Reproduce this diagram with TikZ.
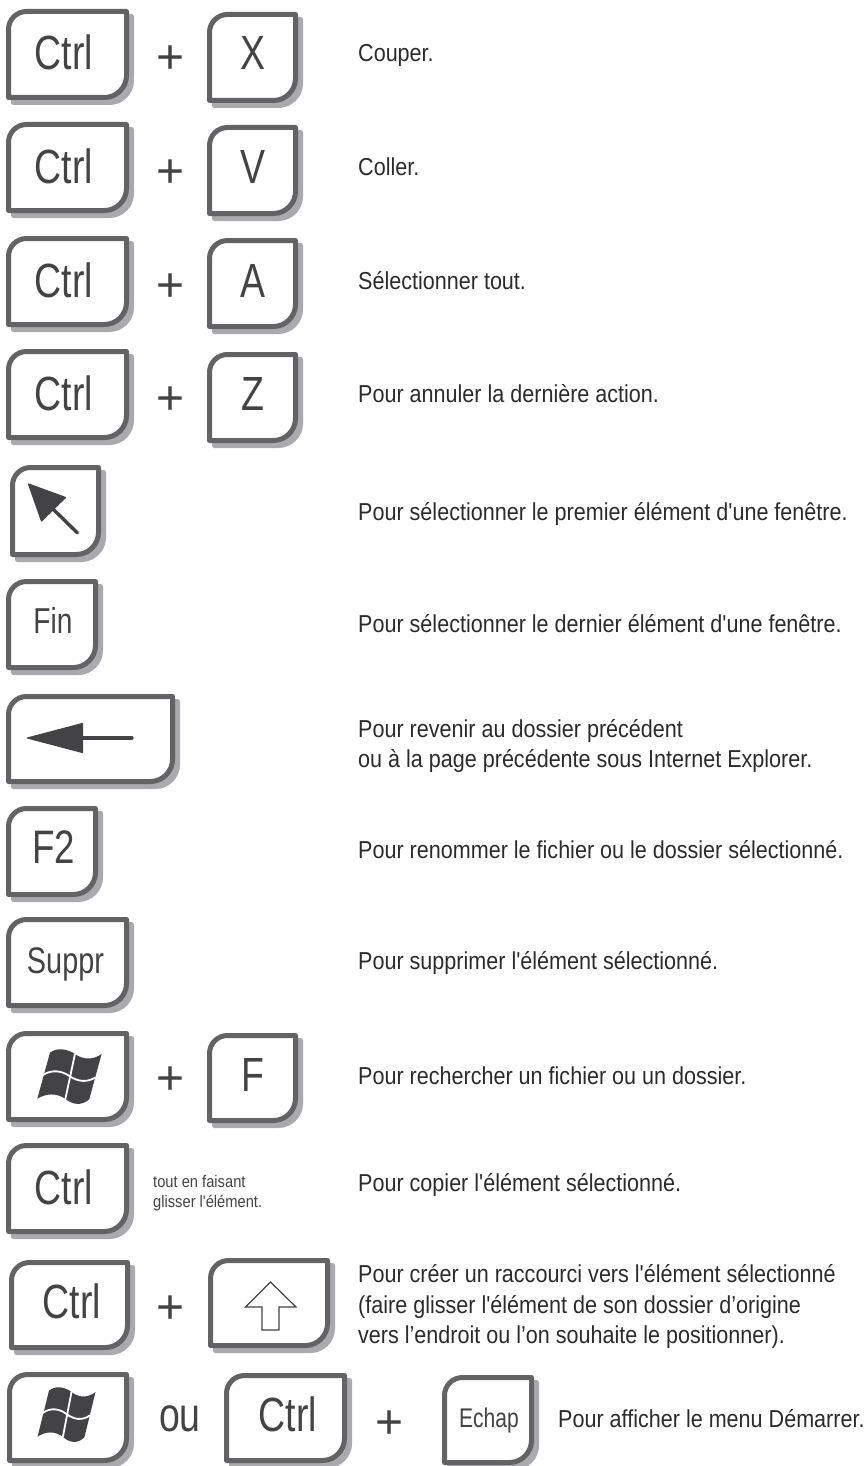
\documentclass[tikz,border=0pt]{standalone}
\usepackage{fontspec}
\setmainfont{Liberation Sans}
\newfontfamily\keyfam[FakeStretch=0.78]{Liberation Sans}
\newfontfamily\bodyfam[FakeStretch=0.88]{Liberation Sans}
\definecolor{keystroke}{HTML}{636366}
\definecolor{keyshadow}{HTML}{A9A9AE}
\definecolor{keyink}{HTML}{434345}
\definecolor{bodyink}{HTML}{2B2B2B}
\newcommand{\keyoutline}[4]{(#1+2.5+18,#2+2.5) -- (#3-2.5,#2+2.5) -- (#3-2.5,#4-2.5-22)
  .. controls (#3-2.5,#4-2.5-10) and (#3-2.5-10,#4-2.5) .. (#3-2.5-22,#4-2.5)
  -- (#1+2.5,#4-2.5) -- (#1+2.5,#2+2.5+18)
  .. controls (#1+2.5,#2+2.5+8) and (#1+2.5+8,#2+2.5) .. (#1+2.5+18,#2+2.5) -- cycle}
\newcommand{\keycap}[4]{%
  \draw[keyshadowstyle,shift={(5,5)}] \keyoutline{#1}{#2}{#3}{#4};
  \draw[keycapstyle] \keyoutline{#1}{#2}{#3}{#4};}
\newcommand{\winlogo}[4]{%
  \begin{scope}[shift={(#1,#2)},xscale=#3,yscale=#4]
    \fill[keyink] (60,38) .. controls (80,22) and (112,26) .. (135,42)
      .. controls (160,60) and (190,60) .. (215,42)
      -- (178,178) .. controls (155,198) and (130,195) .. (108,178)
      .. controls (80,158) and (50,160) .. (22,176) -- cycle;
    \draw[white,line width=1.8] (39,105) .. controls (65,88) and (95,92) .. (118,108)
      .. controls (145,126) and (172,128) .. (197,112);
    \draw[white,line width=1.8] (135,42) -- (106,178);
  \end{scope}}
\tikzset{
  keycapstyle/.style={draw=keystroke,fill=white,line width=5,line join=round},
  keyshadowstyle/.style={draw=keyshadow,fill=keyshadow,line width=5,line join=round},
  keylabel/.style={anchor=base,inner sep=0,text=keyink,font=\keyfam\fontsize{#1}{#1}\selectfont},
  keylabel/.default=48,
  bodytext/.style={anchor=base west,inner sep=0,text=bodyink,font=\bodyfam\fontsize{24.5}{30}\selectfont},
  notetext/.style={anchor=base west,inner sep=0,text=keyink,font=\bodyfam\fontsize{16.7}{20}\selectfont},
  plussign/.style={anchor=center,inner sep=0,text=keyink,font=\fontsize{48}{48}\selectfont},
  glyphline/.style={draw=keyink,line width=3.4,line cap=round},
  glyphhead/.style={fill=keyink,draw=keyink,line width=1.2,line join=round},
}
\begin{document}
\begin{tikzpicture}[x=1pt,y=-1pt]
\useasboundingbox (0,0) rectangle (866,1466);
% Row 1
\keycap{6}{9}{129}{100}
\keycap{207}{12}{298}{103}
\node[keylabel] (k1a) at (64,70) {Ctrl};
\node[keylabel] (k1b) at (253,70) {X};
\node[plussign] (p1) at (171,60) {+};
\node[bodytext] (t1) at (358,62) {Couper.};
% Row 2
\keycap{6}{122}{129}{213}
\keycap{207}{125}{298}{216}
\node[keylabel] (k2a) at (64,183) {Ctrl};
\node[keylabel] (k2b) at (253,183) {V};
\node[plussign] (p2) at (171,174) {+};
\node[bodytext] (t2) at (358,175.5) {Coller.};
% Row 3
\keycap{6}{236}{129}{327}
\keycap{207}{238}{298}{329}
\node[keylabel] (k3a) at (64,297) {Ctrl};
\node[keylabel] (k3b) at (253,297) {A};
\node[plussign] (p3) at (171,288) {+};
\node[bodytext] (t3) at (358,289.5) {Sélectionner tout.};
% Row 4
\keycap{6}{349}{129}{440}
\keycap{207}{352}{298}{443}
\node[keylabel] (k4a) at (64,410) {Ctrl};
\node[keylabel] (k4b) at (253,410) {Z};
\node[plussign] (p4) at (171,401) {+};
\node[bodytext] (t4) at (358,402.5) {Pour annuler la dernière action.};
% Row 5
\keycap{10}{465}{101}{557}
\fill[glyphhead] (28.5,484) -- (65.5,497.5) -- (41.5,521) -- cycle;
\draw[glyphline] (53,509) -- (77.5,533);
\node[bodytext] (t5) at (358,520) {Pour sélectionner le premier élément d'une fenêtre.};
% Row 6
\keycap{6}{579}{98}{670}
\node[keylabel=36] (k6) at (53,633) {Fin};
\node[bodytext] (t6) at (358,632.5) {Pour sélectionner le dernier élément d'une fenêtre.};
% Row 7
\keycap{6}{694}{175}{784}
\fill[glyphhead] (27.5,738) -- (82.5,723.5) -- (82.5,752.5) -- cycle;
\draw[glyphline] (82,738) -- (132,738);
\node[bodytext] (t7a) at (358,737.5) {Pour revenir au dossier précédent};
\node[bodytext] (t7b) at (358,767.5) {ou à la page précédente sous Internet Explorer.};
% Row 8
\keycap{6}{806}{98}{897}
\node[keylabel=47] (k8) at (53.5,863) {F2};
\node[bodytext] (t8) at (358,858.5) {Pour renommer le fichier ou le dossier sélectionné.};
% Row 9
\keycap{6}{917}{129}{1008}
\node[keylabel=37] (k9) at (65.5,973) {Suppr};
\node[bodytext] (t9) at (358,969.5) {Pour supprimer l'élément sélectionné.};
% Row 10
\keycap{6}{1031}{129}{1122}
\winlogo{30}{1040}{0.333}{0.333}
\keycap{207}{1033}{298}{1123}
\node[keylabel] (k10) at (253,1091) {F};
\node[plussign] (p10) at (171,1081) {+};
\node[bodytext] (t10) at (358,1084) {Pour rechercher un fichier ou un dossier.};
% Row 11
\keycap{6}{1143}{129}{1234}
\node[keylabel] (k11) at (64,1204) {Ctrl};
\node[notetext] (n11a) at (153,1187) {tout en faisant};
\node[notetext] (n11b) at (153,1207) {glisser l'élément.};
\node[bodytext] (t11) at (358,1191.5) {Pour copier l'élément sélectionné.};
% Row 12
\keycap{9}{1260}{130}{1350}
\keycap{208}{1258}{330}{1348}
\node[keylabel] (k12) at (72,1318) {Ctrl};
\node[plussign] (p12) at (171,1310) {+};
\draw[draw=keyink,line width=1.2,line join=miter] (270.5,1282) -- (296,1307) -- (279,1307) -- (279,1330) -- (262,1330) -- (262,1307) -- (245.5,1307) -- cycle;
\node[bodytext] (t12a) at (358,1282) {Pour créer un raccourci vers l'élément sélectionné};
\node[bodytext] (t12b) at (358,1313) {(faire glisser l'élément de son dossier d’origine};
\node[bodytext] (t12c) at (358,1343) {vers l’endroit ou l’on souhaite le positionner).};
% Row 13
\keycap{7}{1372}{129}{1463}
\winlogo{31}{1378}{0.30}{0.333}
\node[keylabel=48] (ou) at (180,1431) {ou};
\keycap{224}{1373}{347}{1463}
\node[keylabel] (k13) at (288,1431) {Ctrl};
\node[plussign] (p13) at (390,1425) {+};
\keycap{442}{1375}{534}{1465}
\node[keylabel=27] (k13b) at (489,1427) {Echap};
\node[bodytext] (t13) at (558,1427) {Pour afficher le menu Démarrer.};
\end{tikzpicture}
\end{document}
